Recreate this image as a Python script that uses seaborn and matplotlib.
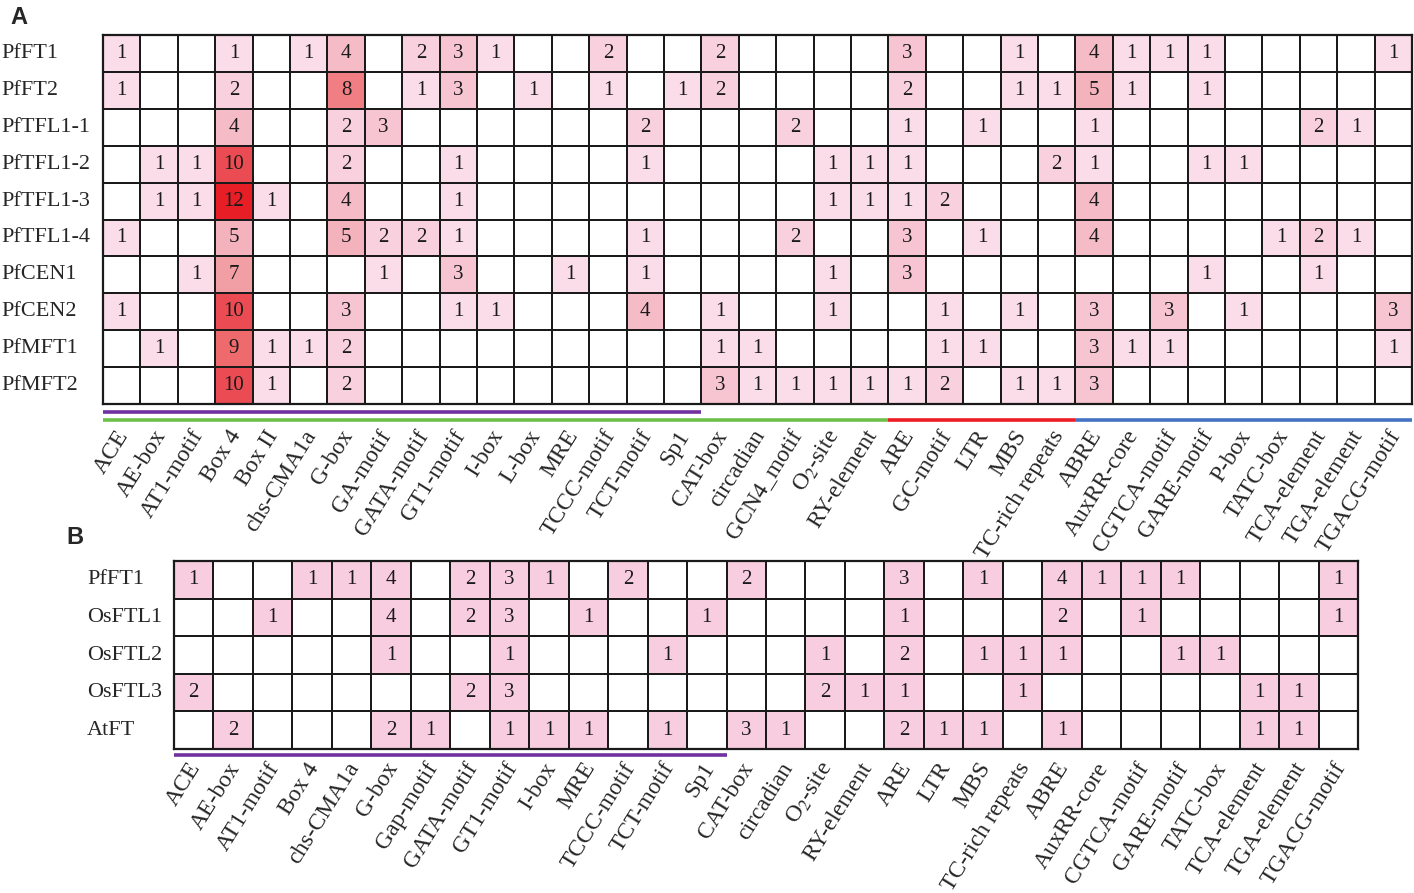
import numpy as np
import pandas as pd
import matplotlib
matplotlib.use("Agg")
import matplotlib.pyplot as plt
import seaborn as sns
from matplotlib.colors import LinearSegmentedColormap, ListedColormap
import matplotlib.transforms as mtransforms

# ---------------- data: panel A ----------------
genes_a = ["PfFT1", "PfFT2", "PfTFL1-1", "PfTFL1-2", "PfTFL1-3", "PfTFL1-4",
           "PfCEN1", "PfCEN2", "PfMFT1", "PfMFT2"]
elements_a = ["ACE", "AE-box", "AT1-motif", "Box 4", "Box II", "chs-CMA1a", "G-box",
              "GA-motif", "GATA-motif", "GT1-motif", "I-box", "L-box", "MRE",
              "TCCC-motif", "TCT-motif", "Sp1", "CAT-box", "circadian", "GCN4_motif",
              "O$_2$-site", "RY-element", "ARE", "GC-motif", "LTR", "MBS",
              "TC-rich repeats", "ABRE", "AuxRR-core", "CGTCA-motif", "GARE-motif",
              "P-box", "TATC-box", "TCA-element", "TGA-element", "TGACG-motif"]
counts_a = [
    [1, 0, 0, 1, 0, 1, 4, 0, 2, 3, 1, 0, 0, 2, 0, 0, 2, 0, 0, 0, 0, 3, 0, 0, 1, 0, 4, 1, 1, 1, 0, 0, 0, 0, 1],   # PfFT1
    [1, 0, 0, 2, 0, 0, 8, 0, 1, 3, 0, 1, 0, 1, 0, 1, 2, 0, 0, 0, 0, 2, 0, 0, 1, 1, 5, 1, 0, 1, 0, 0, 0, 0, 0],   # PfFT2
    [0, 0, 0, 4, 0, 0, 2, 3, 0, 0, 0, 0, 0, 0, 2, 0, 0, 0, 2, 0, 0, 1, 0, 1, 0, 0, 1, 0, 0, 0, 0, 0, 2, 1, 0],   # PfTFL1-1
    [0, 1, 1, 10, 0, 0, 2, 0, 0, 1, 0, 0, 0, 0, 1, 0, 0, 0, 0, 1, 1, 1, 0, 0, 0, 2, 1, 0, 0, 1, 1, 0, 0, 0, 0],  # PfTFL1-2
    [0, 1, 1, 12, 1, 0, 4, 0, 0, 1, 0, 0, 0, 0, 0, 0, 0, 0, 0, 1, 1, 1, 2, 0, 0, 0, 4, 0, 0, 0, 0, 0, 0, 0, 0],  # PfTFL1-3
    [1, 0, 0, 5, 0, 0, 5, 2, 2, 1, 0, 0, 0, 0, 1, 0, 0, 0, 2, 0, 0, 3, 0, 1, 0, 0, 4, 0, 0, 0, 0, 1, 2, 1, 0],   # PfTFL1-4
    [0, 0, 1, 7, 0, 0, 0, 1, 0, 3, 0, 0, 1, 0, 1, 0, 0, 0, 0, 1, 0, 3, 0, 0, 0, 0, 0, 0, 0, 1, 0, 0, 1, 0, 0],   # PfCEN1
    [1, 0, 0, 10, 0, 0, 3, 0, 0, 1, 1, 0, 0, 0, 4, 0, 1, 0, 0, 1, 0, 0, 1, 0, 1, 0, 3, 0, 3, 0, 1, 0, 0, 0, 3],  # PfCEN2
    [0, 1, 0, 9, 1, 1, 2, 0, 0, 0, 0, 0, 0, 0, 0, 0, 1, 1, 0, 0, 0, 0, 1, 1, 0, 0, 3, 1, 1, 0, 0, 0, 0, 0, 1],   # PfMFT1
    [0, 0, 0, 10, 1, 0, 2, 0, 0, 0, 0, 0, 0, 0, 0, 0, 3, 1, 1, 1, 1, 1, 2, 0, 1, 1, 3, 0, 0, 0, 0, 0, 0, 0, 0],  # PfMFT2
]
# element groups shown by coloured bars under panel A: (first, last, colour, level)
groups_a = [("ACE", "Sp1", "#7030A0", 0),
            ("ACE", "RY-element", "#6CC04A", 1),
            ("ARE", "TC-rich repeats", "#EE1C25", 1),
            ("ABRE", "TGACG-motif", "#4472C4", 1)]

# ---------------- data: panel B ----------------
genes_b = ["PfFT1", "OsFTL1", "OsFTL2", "OsFTL3", "AtFT"]
elements_b = ["ACE", "AE-box", "AT1-motif", "Box 4", "chs-CMA1a", "G-box", "Gap-motif",
              "GATA-motif", "GT1-motif", "I-box", "MRE", "TCCC-motif", "TCT-motif", "Sp1",
              "CAT-box", "circadian", "O$_2$-site", "RY-element", "ARE", "LTR", "MBS",
              "TC-rich repeats", "ABRE", "AuxRR-core", "CGTCA-motif", "GARE-motif",
              "TATC-box", "TCA-element", "TGA-element", "TGACG-motif"]
counts_b = [
    [1, 0, 0, 1, 1, 4, 0, 2, 3, 1, 0, 2, 0, 0, 2, 0, 0, 0, 3, 0, 1, 0, 4, 1, 1, 1, 0, 0, 0, 1],  # PfFT1
    [0, 0, 1, 0, 0, 4, 0, 2, 3, 0, 1, 0, 0, 1, 0, 0, 0, 0, 1, 0, 0, 0, 2, 0, 1, 0, 0, 0, 0, 1],  # OsFTL1
    [0, 0, 0, 0, 0, 1, 0, 0, 1, 0, 0, 0, 1, 0, 0, 0, 1, 0, 2, 0, 1, 1, 1, 0, 0, 1, 1, 0, 0, 0],  # OsFTL2
    [2, 0, 0, 0, 0, 0, 0, 2, 3, 0, 0, 0, 0, 0, 0, 0, 2, 1, 1, 0, 0, 1, 0, 0, 0, 0, 0, 1, 1, 0],  # OsFTL3
    [0, 2, 0, 0, 0, 2, 1, 0, 1, 1, 1, 0, 1, 0, 3, 1, 0, 0, 2, 1, 1, 0, 1, 0, 0, 0, 0, 1, 1, 0],  # AtFT
]
groups_b = [("ACE", "Sp1", "#7030A0", 0)]

# ---------------- style ----------------
sns.set_theme(style="white")
plt.rcParams["font.family"] = ["Liberation Serif", "DejaVu Serif"]
plt.rcParams["mathtext.fontset"] = "stix"

W, H = 1414, 893
fig = plt.figure(figsize=(W / 100, H / 100), dpi=100)

def px_axes(x0, y0, x1, y1):
    return fig.add_axes([x0 / W, 1 - y1 / H, (x1 - x0) / W, (y1 - y0) / H])

cmap_a = LinearSegmentedColormap.from_list(
    "cis", [(0.0, "#FFFFFF"), (1 / 12, "#FBDDE9"), (2 / 12, "#F9D1DE"),
            (3 / 12, "#F7C5D2"), (4 / 12, "#F5BBC7"), (5 / 12, "#F4B2BD"),
            (7 / 12, "#F29EA5"), (8 / 12, "#F07E83"), (9 / 12, "#EE6A6D"),
            (10 / 12, "#EB4B52"), (1.0, "#E71E26")], N=1200)
cmap_b = ListedColormap(["#FFFFFF", "#F9CDE0"])

def draw_panel(ax, genes, elements, counts, cmap, vmax, groups, bar_y, pad_left, pad_bottom):
    df = pd.DataFrame(counts, index=genes, columns=elements)
    annot = df.map(lambda v: str(v) if v > 0 else "")
    sns.heatmap(df, ax=ax, cmap=cmap, vmin=0, vmax=vmax, cbar=False,
                annot=annot, fmt="", annot_kws={"size": 15, "color": "#1a1a1a"},
                linewidths=1.3, linecolor="#1a1a1a", square=False)
    for s in ax.spines.values():
        s.set_visible(True)
        s.set_color("#1a1a1a")
        s.set_linewidth(1.6)
    ax.tick_params(axis="both", length=0)
    ax.tick_params(axis="y", pad=pad_left)
    ax.set_yticklabels(genes, rotation=0, fontsize=16, ha="left")
    ax.set_xticklabels(elements, rotation=58, fontsize=17, ha="right",
                       rotation_mode="anchor", va="center")
    ax.tick_params(axis="x", pad=pad_bottom)
    off = mtransforms.ScaledTranslation(2 / 72, 0, fig.dpi_scale_trans)
    for lab in ax.get_xticklabels():
        lab.set_transform(lab.get_transform() + off)
    ax.set_xlabel("")
    ax.set_ylabel("")
    n = len(genes)
    for first, last, color, level in groups:
        i0 = elements.index(first)
        i1 = elements.index(last) + 1
        ax.plot([i0, i1], [n + bar_y[level]] * 2, color=color, lw=2.6,
                solid_capstyle="butt", clip_on=False)

axA = px_axes(103, 35, 1412, 404)
draw_panel(axA, genes_a, elements_a, counts_a, cmap_a, 12, groups_a,
           bar_y=[0.22, 0.44], pad_left=102 * 0.72, pad_bottom=20)

axB = px_axes(174, 561, 1358, 749)
draw_panel(axB, genes_b, elements_b, counts_b, cmap_b, 1, groups_b,
           bar_y=[0.17], pad_left=87 * 0.72, pad_bottom=11)

fig.text(10 / W, 1 - 17 / H, "A", fontsize=17, fontweight="bold",
         family="Liberation Sans", ha="left", va="center")
fig.text(66 / W, 1 - 537 / H, "B", fontsize=17, fontweight="bold",
         family="Liberation Sans", ha="left", va="center")

fig.savefig("out.png", dpi=100)
